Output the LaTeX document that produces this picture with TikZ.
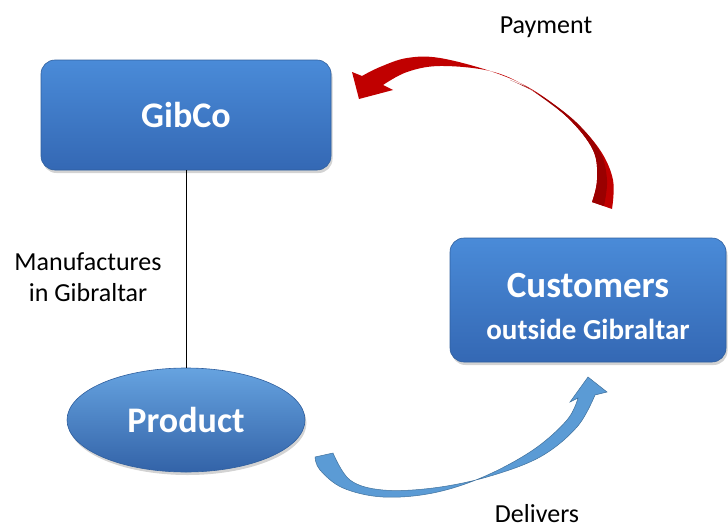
\documentclass[tikz,border=0pt]{standalone}
\usepackage{fontspec}
\setmainfont{Carlito}
\usetikzlibrary{shapes.geometric,shadows}
\definecolor{boxtop}{HTML}{4A8BD8}
\definecolor{boxbot}{HTML}{3468B4}
\definecolor{boxedge}{HTML}{2F5F9E}
\definecolor{elltop}{HTML}{66A3E0}
\definecolor{ellbot}{HTML}{3363A8}
\definecolor{redA}{HTML}{C00000}
\definecolor{redB}{HTML}{9A0000}
\definecolor{blueA}{HTML}{5B9BD5}
\definecolor{blueB}{HTML}{41719C}
\tikzset{
  bluebox/.style={rounded corners=14pt, top color=boxtop, bottom color=boxbot, draw=boxedge, line width=0.6pt,
    drop shadow={shadow xshift=1.5pt, shadow yshift=-3pt, opacity=0.35}, text=white, font=\bfseries, align=center},
  blueell/.style={ellipse, top color=elltop, bottom color=ellbot, draw=boxedge, line width=0.6pt,
    drop shadow={shadow xshift=1.5pt, shadow yshift=-3pt, opacity=0.35}, text=white, font=\bfseries},
  lbl/.style={font=\fontsize{26}{31}\selectfont, align=center, inner sep=0pt}
}
\begin{document}
\begin{tikzpicture}[x=1pt,y=-1pt]
\useasboundingbox (0,0) rectangle (728,530);
% nodes
\node[bluebox, minimum width=290pt, minimum height=110pt, font=\bfseries\fontsize{36}{40}\selectfont] (gibco) at (186,115) {GibCo};
\node[bluebox, minimum width=276pt, minimum height=124pt] (cust) at (588,300) {};
\node[text=white, font=\bfseries\fontsize{37}{42}\selectfont, align=center] (custtext) at (cust.center) [yshift=-6pt] {Customers\\{\fontsize{29}{42}\selectfont outside Gibraltar}};
\node[blueell, minimum width=238pt, minimum height=104pt, inner sep=0pt, font=\bfseries\fontsize{36}{40}\selectfont] (prod) at (186,420) {Product};
% connector
\draw[line width=0.8pt] (gibco.south) -- (prod.north);
% labels
\node[lbl] (manu) at (88,277) {Manufactures\\in Gibraltar};
\node[lbl] (pay) at (546,27) {Payment};
\node[lbl] (deliv) at (537,514) {Delivers};
% red payment arrow
\fill[redA] plot[smooth, tension=0.6] coordinates {(612,209) (613,180) (600,150) (573,120) (533,90) (493,72) (440,58) (407,58) (380,67) (362,76)}
  -- (352,72) -- (359,99) -- (393,90) -- (383,85)
  -- plot[smooth, tension=0.6] coordinates {(383,85) (407,72) (440,66) (490,71) (527,87) (567,117) (593,150) (597,180) (592,202)} -- cycle;
\fill[redB] plot[smooth, tension=0.6] coordinates {(527,87) (567,117) (593,150) (597,180) (592,202)}
  -- (604,206) -- plot[smooth, tension=0.6] coordinates {(604,206) (607,180) (600,152) (576,122) (540,95) (510,80)} -- cycle;
% blue delivery arrow
\filldraw[fill=blueA, draw=blueB, line width=0.5pt] plot[smooth, tension=0.6] coordinates {(315,457) (320,470) (343,488) (383,497) (433,493) (483,477) (533,450) (567,420) (578,398)}
  -- (570,402) -- (588,377) -- (607,392) -- (595,395)
  -- plot[smooth, tension=0.6] coordinates {(595,395) (577,427) (540,457) (487,477) (433,488) (383,490) (350,480) (333,453)} -- cycle;
\end{tikzpicture}
\end{document}
